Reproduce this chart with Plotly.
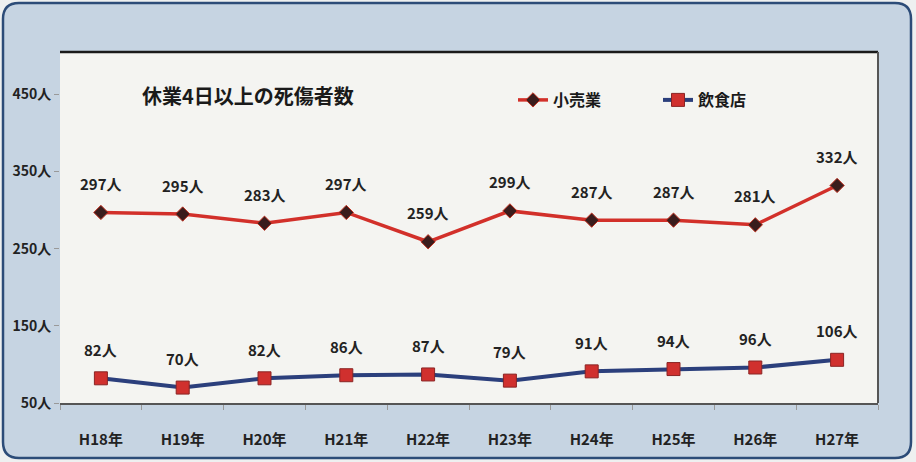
import plotly.graph_objects as go

years = ["H18年", "H19年", "H20年", "H21年", "H22年", "H23年", "H24年", "H25年", "H26年", "H27年"]
retail = [297, 295, 283, 297, 259, 299, 287, 287, 281, 332]
restaurant = [82, 70, 82, 86, 87, 79, 91, 94, 96, 106]
y_ticks = [50, 150, 250, 350, 450]
y_tick_text = ["50人", "150人", "250人", "350人", "450人"]
title_text = "休業4日以上の死傷者数"
names = ["小売業", "飲食店"]

W, H = 916, 462
ML, MR, MT, MB = 60, 38, 52, 59
PW, PH = W - ML - MR, H - MT - MB

def px(x):
    return (x - ML) / PW

def py(y):
    return (H - MB - y) / PH

FONT = "Noto Sans CJK JP"

fig = go.Figure()
fig.add_trace(go.Scatter(
    x=years, y=retail, name=f"<b>{names[0]}</b>", mode="lines+markers",
    line=dict(color="#d2302a", width=3.5),
    marker=dict(symbol="diamond", size=11, color="#3a1c1c", line=dict(color="#c03020", width=1)),
))
fig.add_trace(go.Scatter(
    x=years, y=restaurant, name=f"<b>{names[1]}</b>", mode="lines+markers",
    line=dict(color="#2b3f7c", width=4),
    marker=dict(symbol="square", size=13, color="#d0302e", line=dict(color="#8a2424", width=1)),
))

annotations = []
for series in (retail, restaurant):
    for cat, v in zip(years, series):
        annotations.append(dict(x=cat, y=v, xref="x", yref="y", text=f"<b>{v}人</b>", showarrow=False,
                                yshift=29, font=dict(family=FONT, size=15, color="#222222")))
annotations.append(dict(x=px(140), y=py(95), xref="paper", yref="paper", xanchor="left", yanchor="middle",
                        text=f"<b>{title_text}</b>", showarrow=False,
                        font=dict(family=FONT, size=20, color="#1a1a1a")))

# outer rounded rectangle
x0, x1, y0, y1, r = 3, 911, 3, 458, 16
def P(x, y):
    return f"{px(x):.5f},{py(y):.5f}"
path = (f"M {P(x0 + r, y0)} L {P(x1 - r, y0)} Q {P(x1, y0)} {P(x1, y0 + r)} "
        f"L {P(x1, y1 - r)} Q {P(x1, y1)} {P(x1 - r, y1)} L {P(x0 + r, y1)} "
        f"Q {P(x0, y1)} {P(x0, y1 - r)} L {P(x0, y0 + r)} Q {P(x0, y0)} {P(x0 + r, y0)} Z")

shapes = [
    dict(type="path", path=path, xref="paper", yref="paper", layer="below",
         fillcolor="#c6d4e2", line=dict(color="#2c4c78", width=2.5)),
    dict(type="rect", xref="paper", yref="paper", x0=0, x1=1, y0=0, y1=1, layer="below",
         fillcolor="#f4f4f1", line=dict(width=0)),
    dict(type="line", xref="paper", yref="paper", x0=0, x1=1, y0=1, y1=1,
         line=dict(color="#1a1a1a", width=2.5)),
    dict(type="line", xref="paper", yref="paper", x0=1, x1=1, y0=0, y1=1,
         line=dict(color="#555555", width=2)),
]

fig.update_layout(
    width=W, height=H,
    margin=dict(l=ML, r=MR, t=MT, b=MB, autoexpand=False),
    paper_bgcolor="#eef0f0",
    plot_bgcolor="rgba(0,0,0,0)",
    font=dict(family=FONT, color="#222222"),
    showlegend=True,
    legend=dict(orientation="h", x=px(513), y=py(100), xanchor="left", yanchor="middle",
                bgcolor="rgba(0,0,0,0)", font=dict(family=FONT, size=16, color="#1a1a1a"),
                itemwidth=30, tracegroupgap=0, entrywidth=100),
    annotations=annotations,
    shapes=shapes,
    xaxis=dict(type="category", range=[-0.5, 9.5], showgrid=False, zeroline=False, automargin=False,
               showline=True, linecolor="#555555", linewidth=2,
               ticks="outside", tickson="boundaries", ticklen=5, tickcolor="#999999",
               ticklabelstandoff=22, tickprefix="<b>", ticksuffix="</b>",
               tickfont=dict(family=FONT, size=15, color="#222222")),
    yaxis=dict(range=[50, 505], tickvals=y_ticks, ticktext=[f"<b>{t}</b>" for t in y_tick_text],
               showgrid=False, automargin=False,
               zeroline=False, showline=False, ticks="outside", ticklen=5, tickcolor="#999999",
               tickfont=dict(family=FONT, size=14, color="#222222")),
)

fig.write_html("out.html", config={"displayModeBar": False},
               post_script="document.body.style.margin='0';document.body.style.overflow='hidden';")
